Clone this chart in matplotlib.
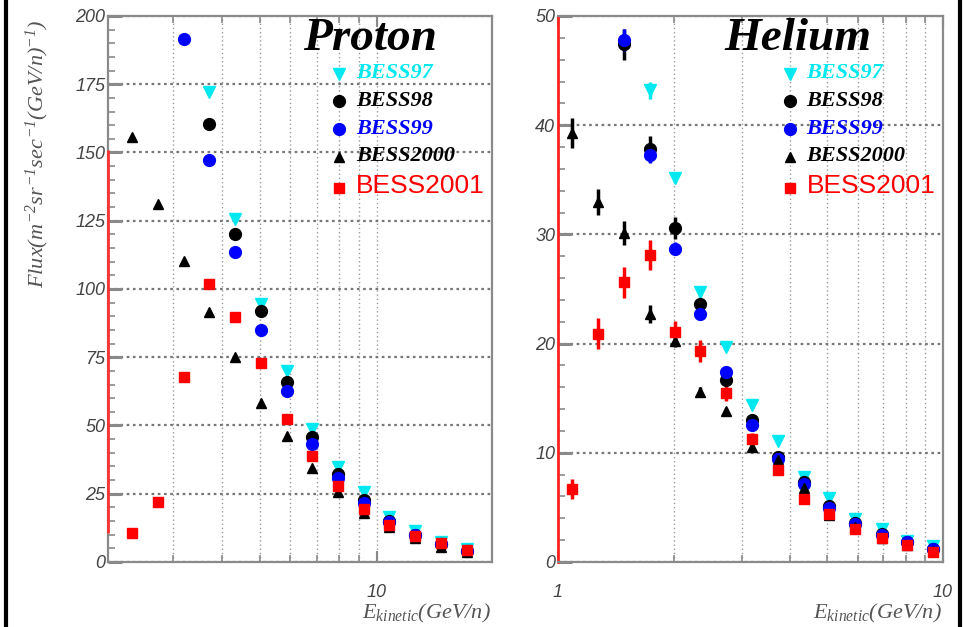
import numpy as np
import matplotlib
matplotlib.use("Agg")
import matplotlib.pyplot as plt
from matplotlib.lines import Line2D
from matplotlib.ticker import FixedLocator, FixedFormatter, MultipleLocator, NullFormatter

plt.rcParams['font.family'] = ['Liberation Sans', 'DejaVu Sans']
plt.rcParams['mathtext.fontset'] = 'custom'
plt.rcParams['mathtext.rm'] = 'Liberation Serif:italic'
plt.rcParams['mathtext.it'] = 'Liberation Serif:italic'
plt.rcParams['mathtext.bf'] = 'Liberation Serif:bold'

nan = np.nan

# proton flux, kinetic energy bins
x_p = [2.36, 2.75, 3.20, 3.71, 4.33, 5.03, 5.87, 6.81, 7.94, 9.26, 10.76, 12.5, 14.6, 17.0]
p97 = [nan, nan, nan, 172, 125.5, 94.5, 70.1, 48.6, 34.9, 25.5, 16.6, 11.2, 7.4, 4.6]
p98 = [nan, nan, nan, 160.4, 120.1, 92.1, 66.1, 45.9, 32.2, 22.7, 15.0, 10.0, 6.5, 4.0]
p99 = [nan, nan, 191.7, 147.3, 113.7, 85.0, 62.6, 43.2, 30.7, 21.5, 14.5, 9.8, 6.5, 4.2]
p2000 = [155.6, 131.1, 110.4, 91.7, 75.2, 58.1, 46.3, 34.3, 25.5, 18.1, 12.7, 8.7, 5.6, 3.5]
p2001 = [10.5, 21.9, 67.6, 101.8, 89.6, 72.8, 52.3, 38.8, 28.0, 19.5, 13.5, 9.5, 6.8, 4.5]
p_red_span = (10.5, 151)

# helium flux
x_he = [1.088, 1.267, 1.48, 1.73, 2.01, 2.34, 2.73, 3.20, 3.72, 4.35, 5.07, 5.90, 6.93, 8.07, 9.40]
h97 = [nan, nan, nan, 43.2, 35.2, 24.7, 19.7, 14.4, 11.1, 7.8, 5.9, 3.9, 3.0, 1.9, 1.5]
h98 = [nan, nan, 47.4, 37.8, 30.6, 23.6, 16.7, 13.0, 9.6, 7.3, 5.1, 3.6, 2.6, 1.8, 1.2]
h99 = [nan, nan, 47.8, 37.3, 28.7, 22.7, 17.4, 12.5, 9.4, 7.1, 4.9, 3.5, 2.5, 1.8, 1.2]
h2000 = [39.3, 33.0, 30.1, 22.7, 20.2, 15.6, 13.8, 10.5, 9.3, 6.8, 4.3, 3.2, 2.2, 1.6, 1.0]
h2001 = [6.7, 20.9, 25.6, 28.1, 21.1, 19.3, 15.45, 11.3, 8.4, 5.8, 4.4, 3.0, 2.2, 1.6, 0.9]
e97 = [nan, nan, nan, 0.8, 0.5, 0.4, 0.3, 0.3, 0.2, 0.2, 0.1, 0.1, 0.1, 0.1, 0.1]
e98 = [nan, nan, 1.4, 1.2, 1.0, 0.6, 0.5, 0.4, 0.3, 0.2, 0.2, 0.1, 0.1, 0.1, 0.1]
e99 = [nan, nan, 1.0, 0.8, 0.6, 0.5, 0.4, 0.3, 0.3, 0.2, 0.2, 0.1, 0.1, 0.1, 0.1]
e2000 = [1.4, 1.2, 1.1, 0.8, 0.5, 0.4, 0.3, 0.3, 0.2, 0.2, 0.1, 0.1, 0.1, 0.1, 0.1]
e2001 = [0.9, 1.4, 1.4, 1.4, 1.0, 1.0, 0.7, 0.5, 0.4, 0.3, 0.3, 0.2, 0.2, 0.1, 0.1]

labels = ['BESS97', 'BESS98', 'BESS99', 'BESS2000', 'BESS2001']
colors = ['#00e8f0', 'black', '#0000ff', 'black', '#ff0000']
markers = ['v', 'o', 'o', '^', 's']
msizes = [8, 8.5, 8.5, 7.5, 7.5]

grey = '#8a8a8a'
tick_c = '#444444'

fig = plt.figure(figsize=(9.63, 6.27), dpi=100)
ax1 = fig.add_axes([0.1121, 0.1037, 0.3988, 0.8708])
ax2 = fig.add_axes([0.5794, 0.1037, 0.3998, 0.8708])


def style_axes(ax, xlim, ylim, ymaj, ymin, xmaj, xmaj_lab, xmin):
    ax.set_xscale('log')
    ax.set_xlim(*xlim)
    ax.set_ylim(*ylim)
    ax.xaxis.set_major_locator(FixedLocator(xmaj))
    ax.xaxis.set_major_formatter(FixedFormatter(xmaj_lab))
    ax.xaxis.set_minor_locator(FixedLocator(xmin))
    ax.xaxis.set_minor_formatter(NullFormatter())
    ax.yaxis.set_major_locator(MultipleLocator(ymaj))
    ax.yaxis.set_minor_locator(MultipleLocator(ymin))
    ax.grid(True, which='major', axis='y', ls=(0, (1.2, 1.6)), color='#777777', lw=1.6)
    ax.grid(True, which='both', axis='x', ls=(0, (1, 2)), color='#999999', lw=1.0)
    for s in ax.spines.values():
        s.set_color(grey)
        s.set_linewidth(1.6)
    ax.tick_params(axis='both', which='both', direction='in', colors=grey, top=True)
    ax.tick_params(axis='y', which='major', length=10, width=2.2, labelsize=13,
                   labelcolor=tick_c, pad=2)
    ax.tick_params(axis='y', which='minor', length=5, width=1.2)
    ax.tick_params(axis='x', which='major', length=8, width=1.5, labelsize=13,
                   labelcolor=tick_c, pad=16)
    ax.tick_params(axis='x', which='minor', length=5, width=1.2)
    for t in ax.get_xticklabels() + ax.get_yticklabels():
        t.set_fontstyle('italic')
    ax.set_axisbelow(True)


style_axes(ax1, (2.043, 19.72), (0, 200), 25, 5, [10], ['10'],
           [3, 4, 5, 6, 7, 8, 9, 20])
style_axes(ax2, (1, 10), (0, 50), 10, 2, [1, 10], ['1', '10'],
           [2, 3, 4, 5, 6, 7, 8, 9])

# proton points
for ys, c, m, ms in zip([p97, p98, p99, p2000, p2001], colors, markers, msizes):
    ax1.plot(x_p, ys, ls='none', marker=m, ms=ms, color=c, mec=c)
ax1.vlines(ax1.get_xlim()[0], *p_red_span, color='#ff3030', lw=2, zorder=5, clip_on=False)

# helium points with error bars
for ys, es, c, m, ms in zip([h97, h98, h99, h2000, h2001], [e97, e98, e99, e2000, e2001],
                            colors, markers, msizes):
    ax2.errorbar(x_he, ys, yerr=es, fmt=m, ms=ms, color=c, mec=c, ecolor=c,
                 elinewidth=2.5, capsize=0)
ax2.spines['left'].set_color('#ff2020')
ax2.spines['left'].set_linewidth(2)

# titles and legends
for ax, name, xc in [(ax1, 'Proton', 0.682), (ax2, 'Helium', 0.623)]:
    ax.text(xc, 0.937, name, transform=ax.transAxes, ha='center', va='baseline',
            fontsize=34, family='Liberation Serif', weight='bold', style='italic')
    handles = [Line2D([], [], ls='none', marker=m, ms=ms, color=c, mec=c)
               for c, m, ms in zip(colors, markers, msizes)]
    leg = ax.legend(handles, labels, loc='upper left', bbox_to_anchor=(0.588, 0.913),
                    frameon=False, handlelength=0.8, handletextpad=0.8,
                    labelspacing=0.55, borderaxespad=0, borderpad=0)
    for i, t in enumerate(leg.get_texts()):
        t.set_color(colors[i])
        if i < 4:
            t.set_fontfamily('Liberation Serif')
            t.set_fontweight('bold')
            t.set_fontstyle('italic')
            t.set_fontsize(16)
        else:
            t.set_fontfamily('Liberation Sans')
            t.set_fontsize(19)
    ax.text(0.997, -0.103, r'$E_{kinetic}(GeV/n)$', transform=ax.transAxes,
            ha='right', va='baseline', fontsize=16, color='#555555')

fig.text(37 / 963, 1 - 20 / 627, r'$Flux(m^{-2}sr^{-1}sec^{-1}(GeV/n)^{-1})$',
         rotation=90, ha='center', va='top', fontsize=16, color='#555555')

# slide frame
for xf in [5.5 / 963, 959.5 / 963]:
    fig.add_artist(Line2D([xf, xf], [0, 1], transform=fig.transFigure, color='black', lw=3))

fig.savefig('out.png', dpi=100)
